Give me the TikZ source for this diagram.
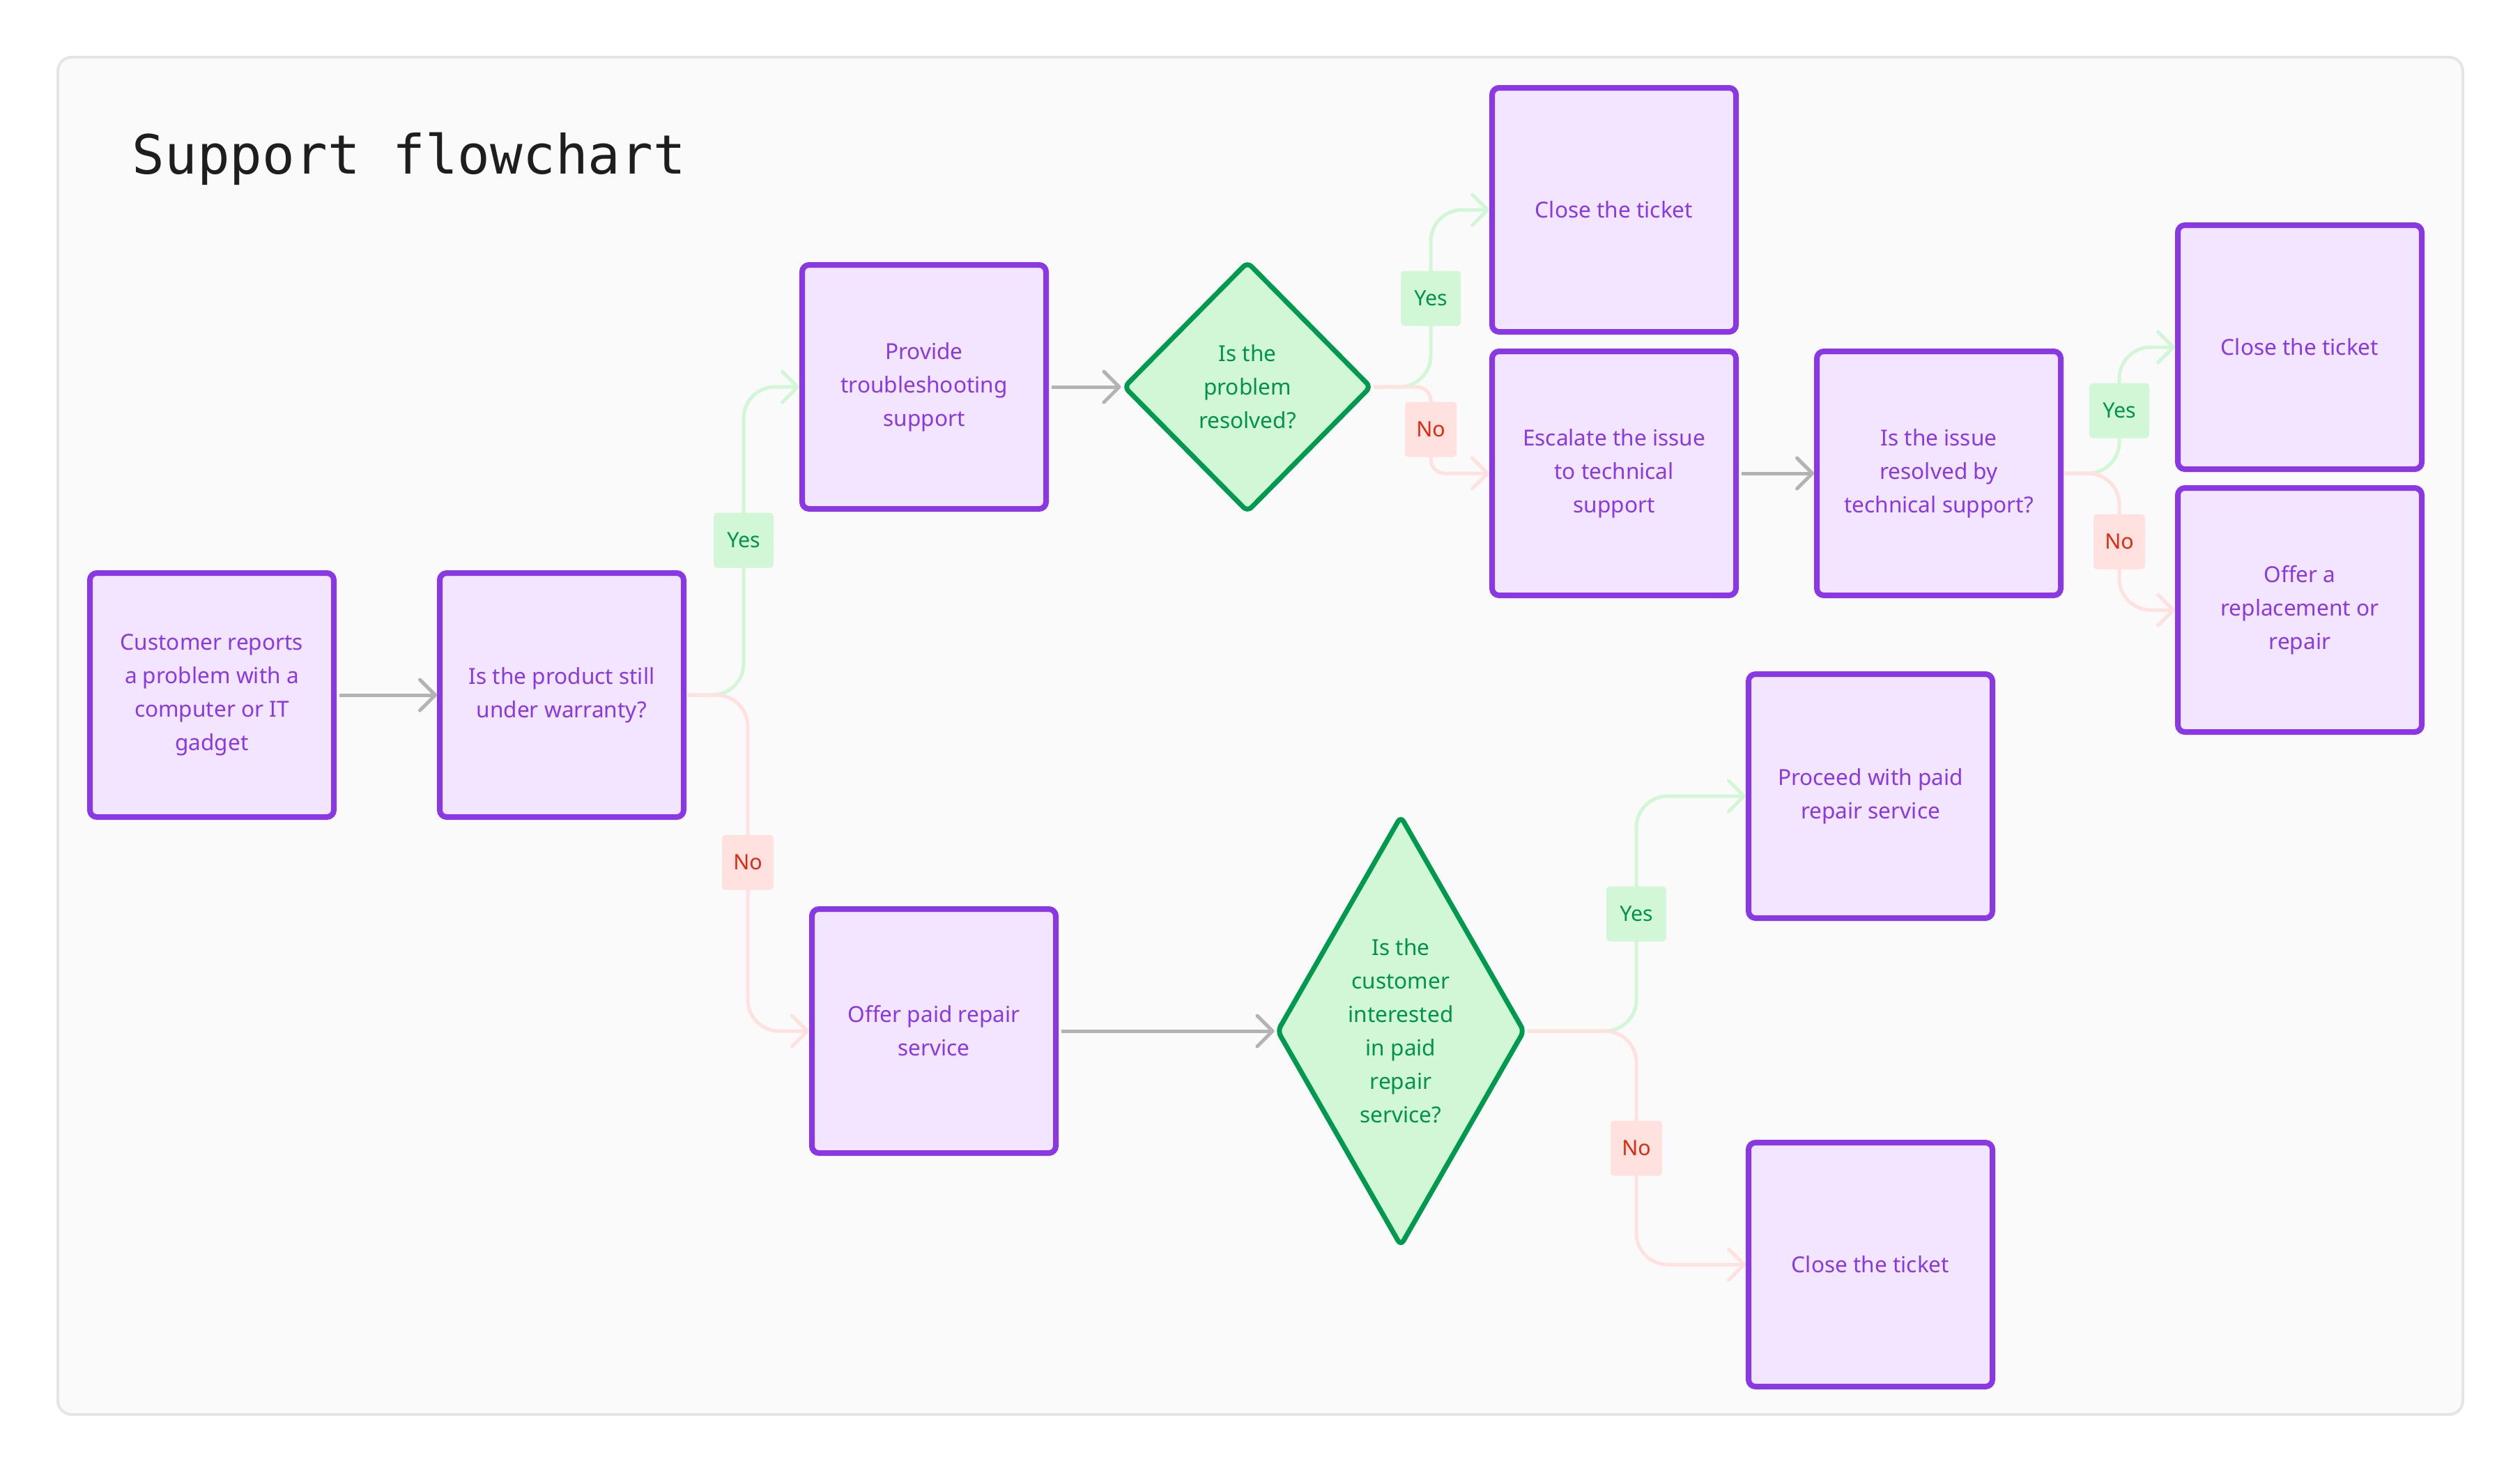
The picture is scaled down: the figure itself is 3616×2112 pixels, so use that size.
\documentclass[tikz,border=0pt]{standalone}
\usepackage{fontspec}
\setmainfont{Noto Sans}
\newfontfamily\titlefont{DejaVu Sans Mono}
\usetikzlibrary{arrows.meta,shapes.geometric}
\definecolor{purp}{HTML}{8A38E6}
\definecolor{purpfill}{HTML}{F2E5FF}
\definecolor{grn}{HTML}{009A4E}
\definecolor{grnfill}{HTML}{D1F7D7}
\definecolor{grntext}{HTML}{00934A}
\definecolor{redtext}{HTML}{E0290D}
\definecolor{redfill}{HTML}{FFE1DF}
\definecolor{gry}{HTML}{B3B3B3}
\definecolor{framefill}{HTML}{FAFAFA}
\definecolor{frameline}{HTML}{E5E5E5}
\definecolor{titlecol}{HTML}{1E1E1E}
\begin{document}
\begin{tikzpicture}[x=0.25pt,y=-0.25pt,
  boxtxt/.style={font=\fontsize{7.9pt}{12pt}\selectfont},
  box/.style={draw=purp, fill=purpfill, line width=2pt, rounded corners=2.5pt,
    minimum width=87.5pt, minimum height=87.5pt, inner sep=0pt, align=center,
    text=purp, boxtxt},
  dec/.style={diamond, draw=grn, fill=grnfill, line width=1.75pt, rounded corners=2pt,
    inner sep=0pt, align=center, text=grntext, boxtxt},
  chev/.style={-{Straight Barb[length=5.5pt,width=11pt,round]}},
  flow/.style={draw=gry, line width=1.25pt, chev, shorten <=1pt},
  yesline/.style={draw=grnfill, line width=1.25pt, chev, rounded corners=11.25pt},
  noline/.style={draw=redfill, line width=1.25pt, chev, rounded corners=11.25pt},
  lab/.style={rounded corners=1.25pt, minimum height=19.75pt, inner sep=0pt,
    font=\fontsize{7.6pt}{9pt}\selectfont},
  yeslab/.style={lab, fill=grnfill, text=grntext, minimum width=21.5pt},
  nolab/.style={lab, fill=redfill, text=redtext, minimum width=18.5pt}
]
\useasboundingbox (0,0) rectangle (3616,2112);
\fill[white] (0,0) rectangle (3616,2112);
\draw[fill=framefill, draw=frameline, line width=1pt, rounded corners=5pt] (83,82) rectangle (3534,2029);

\node[anchor=base west, inner sep=0pt, text=titlecol,
  font=\titlefont\fontsize{19.4pt}{23pt}\selectfont] (title) at (189,249) {Support flowchart};

% nodes
\node[box] (b1) at (304,997) {Customer reports\\a problem with a\\computer or IT\\gadget};
\node[box] (b2) at (806,997) {Is the product still\\under warranty?};
\node[box] (pv) at (1326,555) {Provide\\troubleshooting\\support};
\node[dec, minimum width=89pt, minimum height=90pt] (d1) at (1790,555) {Is the\\problem\\resolved?};
\node[box] (c1) at (2316,301) {Close the ticket};
\node[box] (esc) at (2316,679) {Escalate the issue\\to technical\\support};
\node[box] (iss) at (2782,679) {Is the issue\\resolved by\\technical support?};
\node[box] (c2) at (3300,498) {Close the ticket};
\node[box] (rep) at (3300,875) {Offer a\\replacement or\\repair};
\node[box] (off) at (1340,1479) {Offer paid repair\\service};
\node[dec, shape aspect=0.58, minimum width=89pt, minimum height=154.5pt] (d2) at (2010,1479)
  {Is the\\customer\\interested\\in paid\\repair\\service?};
\node[box] (pr) at (2684,1142) {Proceed with paid\\repair service};
\node[box] (c3) at (2684,1814) {Close the ticket};

% label positions
\coordinate (y1) at (1067,775);
\coordinate (n1) at (1073,1237);
\coordinate (y2) at (2053,428);
\coordinate (n2) at (2053,616);
\coordinate (y3) at (3041,589);
\coordinate (n3) at (3041,777);
\coordinate (y4) at (2348,1311);
\coordinate (n4) at (2348,1647);

% connectors
\draw[flow] (b1.east) -- (b2.west);
\draw[flow] (pv.east) -- (d1.west);
\draw[flow] (esc.east) -- (iss.west);
\draw[flow] (off.east) -- (d2.west);

\draw[yesline] (b2.east) -| (y1) |- (pv.west);
\draw[noline] (b2.east) -| (n1) |- (off.west);
\draw[yesline] (d1.east) -| (y2) |- (c1.west);
\draw[noline, rounded corners=5pt] (d1.east) -| (n2) |- (esc.west);
\draw[yesline] (iss.east) -| (y3) |- (c2.west);
\draw[noline] (iss.east) -| (n3) |- (rep.west);
\draw[yesline] (d2.east) -| (y4) |- (pr.west);
\draw[noline] (d2.east) -| (n4) |- (c3.west);

% labels
\node[yeslab] (ly1) at (y1) {Yes};
\node[nolab] (ln1) at (n1) {No};
\node[yeslab] (ly2) at (y2) {Yes};
\node[nolab] (ln2) at (n2) {No};
\node[yeslab] (ly3) at (y3) {Yes};
\node[nolab] (ln3) at (n3) {No};
\node[yeslab] (ly4) at (y4) {Yes};
\node[nolab] (ln4) at (n4) {No};
\end{tikzpicture}
\end{document}
